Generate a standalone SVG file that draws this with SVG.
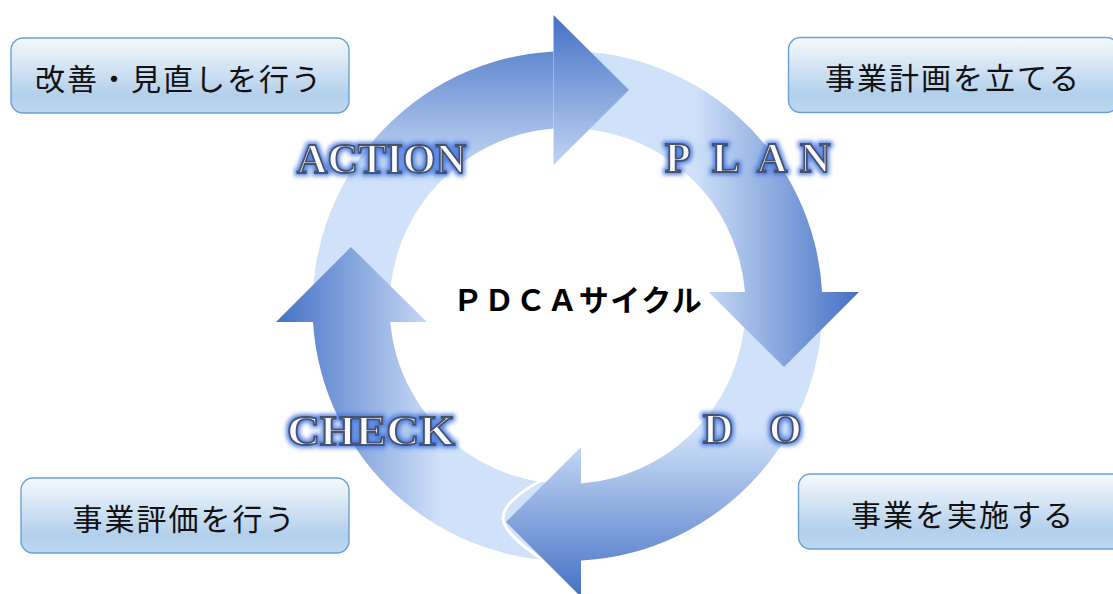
<svg xmlns="http://www.w3.org/2000/svg" width="1113" height="594" viewBox="0 0 1113 594">
  <defs>
    <style>
      .box { stroke: #6aa0d6; stroke-width: 1.4; fill: url(#boxGrad); }
      .boxText { font-family: "Noto Sans CJK JP", "Noto Sans", sans-serif; font-size: 30px; letter-spacing: 2px; fill: #111; text-anchor: middle; dominant-baseline: central; }
      .phase { font-family: "Liberation Serif", "DejaVu Serif", serif; font-weight: bold; font-size: 42px; fill: #fbfcfe; stroke: #46526c; stroke-width: 1.8; filter: url(#glow); }
      .center { font-family: "Noto Sans CJK JP", "Noto Sans", sans-serif; font-weight: bold; font-size: 30px; letter-spacing: 1.5px; fill: #000; text-anchor: middle; }
    </style>
    <linearGradient id="boxGrad" x1="0" y1="0" x2="0" y2="1">
      <stop offset="0" stop-color="#f5f9fd"/>
      <stop offset="0.75" stop-color="#b3d0eb"/>
      <stop offset="1" stop-color="#bcd6ef"/>
    </linearGradient>
    <linearGradient id="gAction" gradientUnits="userSpaceOnUse" x1="0" y1="15" x2="0" y2="185">
      <stop offset="0" stop-color="#4570c4"/>
      <stop offset="1" stop-color="#d0e2f9"/>
    </linearGradient>
    <linearGradient id="gPlan" gradientUnits="userSpaceOnUse" x1="859" y1="0" x2="693" y2="0">
      <stop offset="0" stop-color="#4570c4"/>
      <stop offset="1" stop-color="#d0e2f9"/>
    </linearGradient>
    <linearGradient id="gDo" gradientUnits="userSpaceOnUse" x1="0" y1="597" x2="0" y2="430">
      <stop offset="0" stop-color="#4570c4"/>
      <stop offset="1" stop-color="#d0e2f9"/>
    </linearGradient>
    <linearGradient id="gCheck" gradientUnits="userSpaceOnUse" x1="276" y1="0" x2="442" y2="0">
      <stop offset="0" stop-color="#4570c4"/>
      <stop offset="1" stop-color="#d0e2f9"/>
    </linearGradient>
    <filter id="glow" x="-20%" y="-50%" width="140%" height="200%">
      <feMorphology in="SourceAlpha" operator="dilate" radius="1.5" result="d"/>
      <feGaussianBlur in="d" stdDeviation="2" result="b"/>
      <feFlood flood-color="#3d72e0" flood-opacity="0.85"/>
      <feComposite in2="b" operator="in" result="g"/>
      <feMerge>
        <feMergeNode in="g"/>
        <feMergeNode in="SourceGraphic"/>
      </feMerge>
    </filter>
  </defs>

  <g id="cycle">
    <!-- shafts -->
    <path id="shaft-action" fill="url(#gAction)" d="M 313,322 A 255 255 0 0 1 553.5,51.4 L 553.5,128.6 A 178 178 0 0 0 390.2,322 Z"/>
    <path id="shaft-plan" fill="url(#gPlan)" d="M 553.5,51.4 A 255 255 0 0 1 822.1,292 L 745,292 A 178 178 0 0 0 553.5,128.6 Z"/>
    <path id="shaft-do" fill="url(#gDo)" d="M 822.1,292 A 255 255 0 0 1 581,560.6 L 581,483.5 A 178 178 0 0 0 745,292 Z"/>
    <path id="shaft-check" fill="url(#gCheck)" d="M 581,560.6 A 255 255 0 0 1 313,322 L 390.2,322 A 178 178 0 0 0 581,483.5 Z"/>
    <!-- white edge behind DO head -->
    <path fill="none" stroke="#ffffff" stroke-width="3" d="M 542,480 C 520,492 503,505 503,518 C 503,530 520,545 549,564"/>
    <!-- heads -->
    <polygon id="head-action" fill="url(#gAction)" points="553.5,15 629,90 553.5,165"/>
    <polygon id="head-plan" fill="url(#gPlan)" points="708.5,292 784,367 859,292"/>
    <polygon id="head-do" fill="url(#gDo)" points="581,447 506,522 581,597"/>
    <polygon id="head-check" fill="url(#gCheck)" points="276,322 351,247 427,322"/>
  </g>

  <g id="connectors"></g>

  <g id="label-action"><text class="phase" x="297" y="173" textLength="169" lengthAdjust="spacingAndGlyphs">ACTION</text></g>
  <g id="label-plan"><text class="phase" x="665 712 757 800" y="172">PLAN</text></g>
  <g id="label-do"><text class="phase" x="703 769" y="443">DO</text></g>
  <g id="label-check"><text class="phase" x="287" y="445" textLength="168" lengthAdjust="spacingAndGlyphs">CHECK</text></g>

  <g id="center-title"><text class="center" x="578" y="311">ＰＤＣＡサイクル</text></g>

  <g id="node-improve">
    <rect class="box" x="11" y="38" width="338" height="75" rx="12"/>
    <text class="boxText" x="179" y="77">改善・見直しを行う</text>
  </g>
  <g id="node-plan">
    <rect class="box" x="788.5" y="37.5" width="330" height="75" rx="12"/>
    <text class="boxText" x="953" y="76">事業計画を立てる</text>
  </g>
  <g id="node-check">
    <rect class="box" x="21" y="478" width="328" height="75" rx="12"/>
    <text class="boxText" x="184.5" y="516.5">事業評価を行う</text>
  </g>
  <g id="node-do">
    <rect class="box" x="798.5" y="474" width="330" height="75" rx="12"/>
    <text class="boxText" x="963" y="513">事業を実施する</text>
  </g>
</svg>
